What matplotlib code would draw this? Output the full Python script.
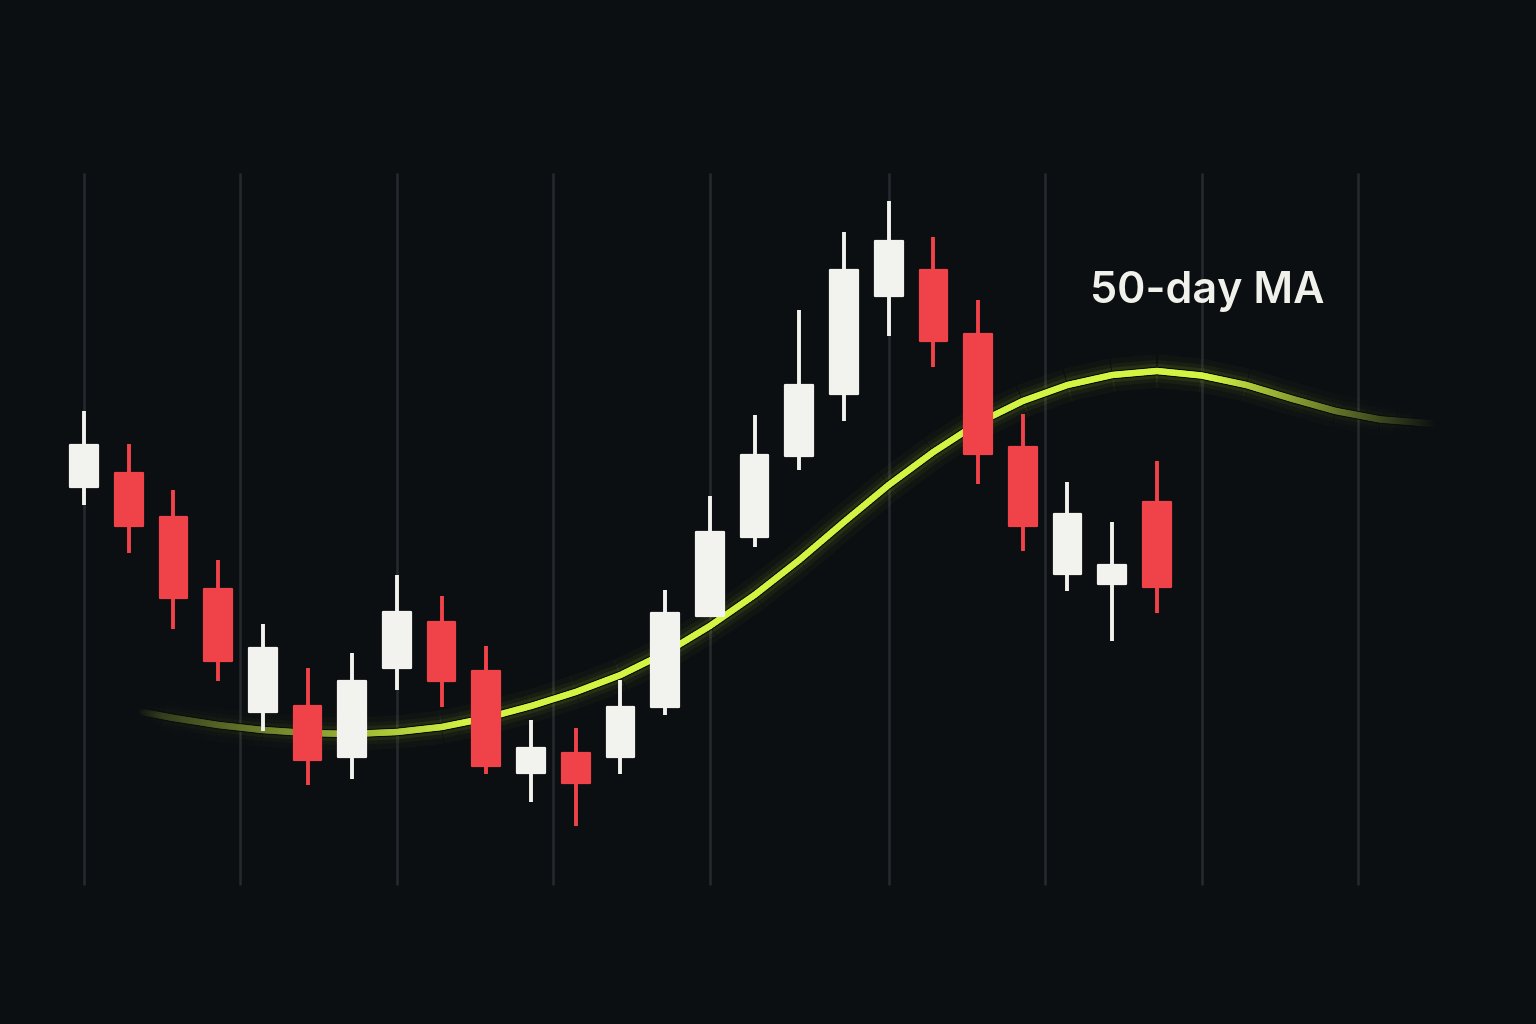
import numpy as np
import matplotlib
matplotlib.use("Agg")
import matplotlib.pyplot as plt
from matplotlib.collections import LineCollection
from matplotlib.colors import to_rgba, to_rgb

# ---------------- data ----------------
days = list(range(25))
opens  = [102.6, 105.4, 96.6, 82.2, 57.6, 58.8, 48.6, 66.4, 75.6, 65.8, 45.4, 49.4, 48.6,
          58.6, 76.8, 92.6, 108.8, 121.2, 140.8, 146.0, 133.2, 110.6, 85.2, 83.2, 99.6]
highs  = [117.8, 111.2, 102.0, 88.0, 75.2, 66.4, 69.4, 85.0, 80.8, 70.8, 56.0, 54.4, 64.0,
          82.0, 100.8, 117.0, 138.0, 153.6, 159.8, 152.6, 140.0, 117.2, 103.6, 95.6, 107.8]
lows   = [99.0, 89.4, 74.2, 63.8, 53.8, 43.0, 44.2, 62.0, 58.6, 45.2, 39.6, 34.8, 45.2,
          57.0, 76.8, 90.6, 106.0, 115.8, 132.8, 126.6, 103.2, 89.8, 81.8, 71.8, 77.4]
closes = [111.0, 94.8, 80.4, 67.8, 70.4, 48.0, 63.8, 77.6, 63.8, 46.8, 50.4, 43.4, 58.6,
          77.4, 93.6, 109.0, 123.0, 146.0, 151.8, 131.8, 109.2, 94.8, 97.2, 87.0, 82.6]

ma_x = [1.3, 2, 3, 4, 5, 6, 7, 8, 9, 10, 11, 12, 13, 14, 15, 16, 17, 18, 19, 20,
        21, 22, 23, 24, 25, 26, 27, 28, 29, 30, 30.3]
ma_y = [57.6, 56.4, 55.0, 54.0, 53.4, 53.2, 53.6, 54.6, 56.4, 58.8, 61.6, 65.0, 69.4,
        74.8, 81.0, 88.0, 95.6, 103.0, 109.6, 115.4, 119.8, 123.0, 125.0, 125.8, 124.9,
        123.0, 120.3, 117.8, 116.1, 115.4, 115.3]

grid_x = [0, 3.5, 7, 10.5, 14, 18, 21.5, 25, 28.5]
grid_span = (23.0, 165.4)

label_text = "50-day MA"
label_pos = (25.12, 141.8)

# ---------------- style ----------------
BG = "#0c0f12"
GRID = "#26292d"
UP = "#f2f2ee"
DOWN = "#ef4349"
MA_CORE = "#d4f443"
MA_GLOW = "#b8e830"

fig = plt.figure(figsize=(15.36, 10.24), dpi=100, facecolor=BG)
ax = fig.add_axes([0, 0, 1, 1])
ax.set_facecolor(BG)
ax.set_xlim(-1.879, 32.48)
ax.set_ylim(-4.8, 200)
ax.axis("off")

# grid
ax.vlines(grid_x, grid_span[0], grid_span[1], colors=GRID, linewidth=1.8, zorder=1)

# moving average: split each straight piece for a smooth fade at both ends
def faded_segments(xs, ys, n=16):
    px, py = [], []
    for i in range(len(xs) - 1):
        t = np.linspace(0, 1, n, endpoint=False)
        px.extend(xs[i] + (xs[i + 1] - xs[i]) * t)
        py.extend(ys[i] + (ys[i + 1] - ys[i]) * t)
    px.append(xs[-1]); py.append(ys[-1])
    px = np.array(px); py = np.array(py)
    pts = np.column_stack([px, py]).reshape(-1, 1, 2)
    segs = np.concatenate([pts[:-1], pts[1:]], axis=1)
    mid = (px[:-1] + px[1:]) / 2
    a_in = np.clip((mid - xs[0]) / (8.6 - xs[0]), 0, 1)
    a_in = 0.12 + 0.88 * a_in ** 0.9
    a_in *= np.clip((mid - xs[0]) / 0.5, 0, 1) ** 0.5
    a_out = np.clip((xs[-1] - mid) / (xs[-1] - 25.2), 0, 1)
    a_out = a_out ** 1.0
    a = np.minimum(a_in, a_out)
    return segs, a

segs, alpha = faded_segments(ma_x, ma_y)
bg_rgb = np.array(to_rgb(BG))

def glow_layer(color, lw, amax, z):
    rgba = np.array([to_rgba(color)] * len(alpha))
    rgba[:, 3] = alpha * amax
    ax.add_collection(LineCollection(segs, colors=rgba, linewidths=lw, capstyle="butt",
                                     joinstyle="round", zorder=z))

def solid_layer(color, lw, z):
    c = np.array(to_rgb(color))
    cols = bg_rgb[None, :] * (1 - alpha[:, None]) + c[None, :] * alpha[:, None]
    ax.add_collection(LineCollection(segs, colors=cols, linewidths=lw, capstyle="round",
                                     joinstyle="round", zorder=z))

glow_layer(MA_GLOW, 24, 0.03, 2)
glow_layer(MA_GLOW, 16, 0.05, 2.1)
glow_layer(MA_GLOW, 10.5, 0.09, 2.2)
solid_layer("#070906", 6.0, 2.3)
solid_layer(MA_CORE, 4.6, 2.4)

# candles
for d, o, h, l, c in zip(days, opens, highs, lows, closes):
    col = UP if c >= o else DOWN
    ax.vlines(d, l, h, colors=col, linewidth=2.8, zorder=4)
    ax.bar(d, abs(c - o), bottom=min(o, c), width=0.62, color=col,
           edgecolor=col, linewidth=1.6, joinstyle="round", zorder=5)

# label
ax.text(label_pos[0], label_pos[1], label_text, color="#f1f1ec", fontsize=31,
        family=["Inter", "DejaVu Sans"], fontweight="semibold",
        ha="center", va="center", zorder=6)

fig.savefig("out.png", dpi=100, facecolor=BG)
